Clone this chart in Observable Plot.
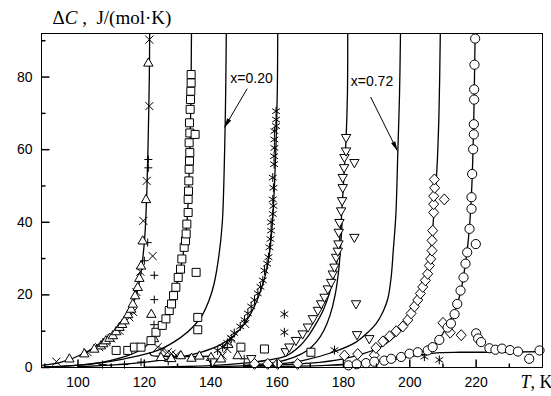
<!DOCTYPE html>
<html>
<head>
<meta charset="utf-8">
<script src="https://cdn.jsdelivr.net/npm/d3@7"></script>
<script src="https://cdn.jsdelivr.net/npm/@observablehq/plot@0.6"></script>
<style>
  html, body { margin: 0; padding: 0; background: #fff; }
  #chart { width: 551px; height: 396px; }
</style>
</head>
<body>
<div id="chart"></div>
<script>
// Excess heat capacity ΔC (J/(mol·K)) versus temperature T (K).
// Each pair is [T, ΔC].

// Fitted curves, one per composition (low-T branch up to the divergence).
const curveA = [[89,0.6],[95,1.5],[102,4.0],[108,7.6],[111,10],[113,12.5],[115.5,16],[117.4,19.5],[118.6,24],[119.4,29],[120.2,37],[120.8,50],[121.2,65],[121.5,80],[121.6,92]];
const curveATail = [[121.6,4.0],[122.2,3.3],[126,3.1],[132,3.0],[140,3.1]];
const curveB = [[90,0.2],[104,1.0],[115,3.3],[120,5.5],[123.5,9.2],[126.5,13.4],[128.2,17.5],[129.5,22.1],[130.9,27.1],[132.0,33.1],[132.8,39.5],[133.3,48],[133.7,60],[134.0,72],[134.2,92]];
const curveC = [[95,0.3],[105,1.1],[114,2.4],[124,4.7],[131,8.3],[135,11.5],[137.5,14.5],[139.5,18.5],[141,23],[142.5,31],[143.5,40],[144.2,60],[144.5,75],[144.7,92]];
const curveD = [[100,0.2],[112,0.8],[124,1.9],[137,4.2],[143,6.3],[147,8.8],[150.5,12.5],[153,16.5],[155,21],[156.5,25.5],[157.8,32],[158.6,40],[159.3,52],[159.8,65],[160.1,78],[160.2,92]];
const curveE = [[120,0.1],[140,0.5],[150,1.2],[157,2.0],[162.7,3.2],[166.7,5.8],[169.5,8.8],[171.7,12],[174,16],[175.8,20.5],[177.4,26],[178.5,32],[179.3,40],[180.1,52],[180.8,63],[181.2,75],[181.3,92]];
const curveE2 = [[150,0.6],[160,1.5],[165,2.8],[169.1,4.7],[172,7.2],[174.1,10.2],[176,14.5],[177.5,20],[178.6,27],[179.2,34],[179.6,40]];
const curveF = [[140,0.2],[160,0.9],[167.7,1.9],[176.8,4.2],[183.8,7.0],[187.5,9.8],[189.8,12],[192,15.5],[193.4,19],[194.4,25],[195.0,32],[195.8,42],[196.4,59.6],[196.9,75],[197.2,92]];
const curveG = [[150,0.3],[170,1.2],[180,2.4],[186,3.8],[191.5,5.8],[195,8.2],[198.5,11.5],[201,15.5],[203.3,20],[204.9,25],[206.2,32],[206.9,38],[207.5,46],[208.2,55],[208.8,70],[209.2,92]];
const curveGTail = [[195,2.2],[200,3.0],[205,3.7],[209,4.1],[215,4.2],[225,4.2],[240,4.4]];
const curveH = [[150,0.1],[175,0.6],[185,1.1],[192,1.9],[198,3.0],[203,4.2],[206.5,5.7],[209,8],[211,11],[213,14.5],[214.5,18],[215.7,22.5],[216.6,27.5],[217.4,33],[218.1,40],[218.7,50],[219.2,65],[219.5,80],[219.7,92]];

// Measured points, grouped by marker.
const trianglesUp = [[97.4,2.4],[101.9,3.8],[104.9,5.1],[106.9,6.0],[107.6,6.6],[108.4,7.4],[109.5,8.1],[110.5,8.8],[111.5,9.9],[112.5,11.1],[113.3,11.9],[114.0,12.9],[115.1,14.6],[116.0,16.1],[116.5,17.5],[117.2,19.8],[118.0,22.1],[118.5,24.6],[119.0,28.0],[119.5,34.9],[120.5,46.3],[121.2,83.9],[122.1,14.7],[122.9,8.0],[125.0,2.8],[128.1,2.5],[131.0,3.3],[134.2,2.6],[136.6,3.2],[140.1,2.8],[143.1,2.4],[145.3,6.4],[148.1,3.3]];
const crosses = [[93.5,1.6],[102.9,4.2],[106.4,5.6],[108.6,7.0],[110.0,8.0],[112.5,10.1],[115.5,13.8],[116.6,15.3],[117.6,20.8],[118.8,26.4],[119.7,40.4],[120.7,51.4],[121.5,72.0],[121.5,90.3],[122.5,30.7],[124.0,5.6],[125.5,4.8],[127.0,4.2],[128.2,3.8],[129.6,3.4],[143.6,3.3],[145.0,5.1],[146.2,7.9],[150.4,12.0]];
const pluses = [[107.4,0.8],[114.0,0.8],[119.0,1.5],[120.0,29.4],[121.0,34.4],[121.2,55.0],[121.2,57.3],[123.0,25.4],[123.0,18.7],[122.9,11.8],[127.2,1.7],[150.1,2.4]];
const squares = [[111.5,4.7],[115.0,4.7],[117.0,5.6],[119.0,5.6],[122.0,7.4],[123.5,9.7],[125.4,11.6],[126.5,13.4],[127.5,15.7],[128.2,17.5],[128.8,19.8],[129.5,22.1],[130.2,24.8],[130.9,27.1],[131.3,29.9],[132.0,33.1],[132.4,34.9],[132.6,36.8],[132.8,39.5],[133.2,42.7],[133.2,46.3],[133.3,48.6],[133.4,51.4],[133.5,54.6],[133.6,56.9],[133.7,59.2],[133.5,61.9],[133.7,64.6],[133.6,67.4],[133.8,71.1],[133.9,73.8],[134.0,76.1],[134.1,78.4],[134.1,80.7],[135.3,64.2],[135.6,26.2],[136.1,13.8],[136.1,10.4],[149.1,5.6],[156.2,5.1],[170.2,4.2]];
const asterisks = [[142.1,4.7],[143.6,5.6],[145.0,6.8],[146.2,8.0],[147.1,9.5],[148.9,11.3],[150.2,13.1],[151.2,14.9],[152.2,16.8],[153.2,18.6],[154.2,20.4],[155.0,22.2],[155.7,24.0],[156.2,26.7],[157.0,28.6],[157.4,30.4],[157.7,33.1],[158.0,35.4],[158.2,37.7],[158.2,40.0],[158.7,42.3],[158.9,44.5],[158.7,46.3],[158.9,49.5],[158.7,52.3],[159.1,56.0],[159.1,58.2],[159.2,60.5],[159.2,62.8],[159.2,65.1],[159.7,66.5],[159.7,68.3],[159.7,70.6],[162.2,14.7],[162.2,9.7],[177.3,4.8],[204.4,3.0],[208.9,2.1]];
const trianglesDown = [[140.6,1.5],[152.2,2.4],[162.6,4.3],[163.7,5.6],[165.7,7.4],[167.7,9.2],[169.3,11.1],[170.8,13.4],[172.3,15.7],[173.3,17.5],[174.3,19.3],[175.3,21.6],[176.3,23.4],[176.8,25.7],[177.3,27.6],[177.8,30.3],[178.3,32.0],[178.5,34.0],[178.6,37.2],[178.8,39.9],[179.3,43.1],[179.6,45.9],[179.8,49.5],[179.8,52.3],[180.2,55.0],[180.3,57.8],[180.8,59.6],[180.8,63.3],[183.3,56.4],[183.3,35.8],[183.8,17.5],[184.1,9.0],[187.8,7.9]];
const diamonds = [[153.2,1.0],[157.2,1.0],[160.2,1.0],[166.2,1.0],[180.3,3.3],[184.3,3.7],[189.3,3.4],[189.8,5.4],[191.9,7.2],[193.9,8.6],[195.9,10.0],[197.9,11.3],[199.4,13.1],[200.4,14.9],[201.4,16.8],[202.4,18.6],[203.2,20.4],[203.9,22.2],[204.7,24.0],[205.4,25.8],[205.9,28.1],[206.3,29.9],[206.7,32.2],[206.7,35.0],[206.9,37.7],[207.2,42.7],[207.2,45.0],[207.2,47.2],[207.5,49.5],[207.4,51.8],[210.4,46.3],[210.0,12.3],[212.2,9.6],[215.5,8.9]];
const circles = [[181.5,0.6],[184.0,0.9],[186.8,1.2],[189.3,1.6],[192.3,1.9],[194.4,2.4],[197.4,2.9],[199.9,3.8],[202.4,4.2],[205.4,4.7],[206.9,5.6],[208.9,7.6],[211.4,11.0],[212.4,12.1],[213.5,14.7],[214.3,17.5],[215.3,21.2],[216.2,24.8],[216.8,28.6],[217.3,31.7],[218.0,38.2],[218.6,43.7],[218.6,46.9],[218.8,53.3],[219.1,60.1],[219.3,64.2],[219.3,67.0],[219.4,73.8],[219.4,76.6],[219.5,83.4],[219.7,90.6],[219.9,34.0],[220.0,9.4],[220.6,8.0],[221.5,7.0],[224.0,5.3],[225.8,4.9],[227.8,5.2],[230.2,4.8],[232.6,4.4],[236.0,2.4],[239.1,4.7]];

// Composition labels with their pointer arrows: [text, T, ΔC] and [T1, ΔC1, T2, ΔC2].
const labelTexts = [["x=0.20", 152.3, 79.6], ["x=0.72", 188.6, 78.8]];
const pointers = [[151.0, 76.8, 144.2, 66.2], [188.2, 74.5, 196.2, 59.8]];

// Axis ticks.
const xTickValues = [100, 120, 140, 160, 180, 200, 220];
const xMinorTicks = [90, 110, 130, 150, 170, 190, 210, 230];
const yTickValues = [0, 20, 40, 60, 80];
const yMinorTicks = [10, 30, 50, 70, 90];

const xDomain = [89, 240];
const yDomain = [0, 92];

const T = d => d[0];
const C = d => d[1];

// Marker shapes, drawn at fixed pixel size.
const triUp = {draw(c) { c.moveTo(0, -5); c.lineTo(4.7, 3.2); c.lineTo(-4.7, 3.2); c.closePath(); }};
const triDown = {draw(c) { c.moveTo(0, 5); c.lineTo(4.7, -3.2); c.lineTo(-4.7, -3.2); c.closePath(); }};
const sq = {draw(c) { c.moveTo(-4, -4); c.lineTo(4, -4); c.lineTo(4, 4); c.lineTo(-4, 4); c.closePath(); }};
const dia = {draw(c) { c.moveTo(0, -5.5); c.lineTo(5, 0); c.lineTo(0, 5.5); c.lineTo(-5, 0); c.closePath(); }};
const circ = {draw(c) { c.moveTo(4.6, 0); c.arc(0, 0, 4.6, 0, 2 * Math.PI); }};
const times = {draw(c) { c.moveTo(-4, -4); c.lineTo(4, 4); c.moveTo(4, -4); c.lineTo(-4, 4); }};
const plus = {draw(c) { c.moveTo(-4, 0); c.lineTo(4, 0); c.moveTo(0, -4); c.lineTo(0, 4); }};
const aster = {draw(c) {
  c.moveTo(0, -4.5); c.lineTo(0, 4.5);
  c.moveTo(-3.9, -2.6); c.lineTo(3.9, 2.6);
  c.moveTo(3.9, -2.6); c.lineTo(-3.9, 2.6);
}};
const tickUp = len => ({draw(c) { c.moveTo(0, 0); c.lineTo(0, -len); }});
const tickRight = len => ({draw(c) { c.moveTo(0, 0); c.lineTo(len, 0); }});

const lineOpts = {x: T, y: C, stroke: "black", strokeWidth: 1.3, curve: "catmull-rom", clip: true};
const openDot = (data, symbol) => Plot.dot(data, {x: T, y: C, symbol, r: 4, fill: "white", stroke: "black", strokeWidth: 1});
const lineDot = (data, symbol) => Plot.dot(data, {x: T, y: C, symbol, r: 4, fill: "none", stroke: "black", strokeWidth: 1});

const chart = Plot.plot({
  width: 551,
  height: 396,
  marginLeft: 41,
  marginRight: 9,
  marginTop: 33,
  marginBottom: 29,
  style: {background: "white", fontFamily: "'Liberation Sans', Arial, sans-serif", fontSize: "14px", color: "black"},
  x: {domain: xDomain},
  y: {domain: yDomain},
  marks: [
    Plot.line(curveA, lineOpts),
    Plot.line(curveATail, lineOpts),
    Plot.line(curveB, lineOpts),
    Plot.line(curveC, lineOpts),
    Plot.line(curveD, lineOpts),
    Plot.line(curveE, lineOpts),
    Plot.line(curveE2, lineOpts),
    Plot.line(curveF, lineOpts),
    Plot.line(curveG, lineOpts),
    Plot.line(curveGTail, lineOpts),
    Plot.line(curveH, lineOpts),

    lineDot(pluses, plus),
    lineDot(crosses, times),
    openDot(trianglesUp, triUp),
    openDot(squares, sq),
    lineDot(asterisks, aster),
    openDot(trianglesDown, triDown),
    openDot(diamonds, dia),
    openDot(circles, circ),

    // composition labels and pointers
    Plot.text(labelTexts, {x: d => d[1], y: d => d[2], text: d => d[0], fontSize: 14, fill: "black"}),
    Plot.link(pointers, {x1: d => d[0], y1: d => d[1], x2: d => d[2], y2: d => d[3], stroke: "black", strokeWidth: 1, markerEnd: "arrow"}),

    // frame and inward ticks
    Plot.frame({stroke: "black", strokeWidth: 1}),
    Plot.dot(xTickValues, {x: d => d, y: () => yDomain[0], symbol: tickUp(8), r: 4, stroke: "black", fill: "none"}),
    Plot.dot(xMinorTicks, {x: d => d, y: () => yDomain[0], symbol: tickUp(4), r: 4, stroke: "black", fill: "none"}),
    Plot.dot(yTickValues, {x: () => xDomain[0], y: d => d, symbol: tickRight(8), r: 4, stroke: "black", fill: "none"}),
    Plot.dot(yMinorTicks, {x: () => xDomain[0], y: d => d, symbol: tickRight(4), r: 4, stroke: "black", fill: "none"}),

    Plot.axisX({ticks: xTickValues, tickSize: 0, tickPadding: 10, label: null}),
    Plot.axisY({ticks: yTickValues, tickSize: 0, tickPadding: 9, label: null}),

    // axis titles, anchored to the plot corners
    Plot.text(["ΔC ,  J/(mol·K)"], {x: () => xDomain[0], y: () => yDomain[1], dx: 11, dy: -16, textAnchor: "start", fontSize: 19, fill: "black"}),
    Plot.text(["T, K"], {x: () => xDomain[1], y: () => yDomain[0], dx: 10, dy: 15, textAnchor: "end", fontSize: 18, fill: "black"})
  ]
});

// Serif titles with italic variable names.
function styleRuns(svg, full, runs) {
  const ns = "http://www.w3.org/2000/svg";
  for (const t of svg.querySelectorAll("text")) {
    if (t.textContent !== full) continue;
    t.textContent = "";
    t.setAttribute("font-family", "'Liberation Serif', 'Times New Roman', serif");
    t.setAttribute("text-anchor", full === "T, K" ? "end" : "start");
    t.style.whiteSpace = "pre";
    for (const [s, italic] of runs) {
      const ts = document.createElementNS(ns, "tspan");
      ts.textContent = s;
      if (italic) ts.setAttribute("font-style", "italic");
      t.appendChild(ts);
    }
  }
}
styleRuns(chart, "ΔC ,  J/(mol·K)", [["Δ", false], ["C", true], [" ,  J/(mol·K)", false]]);
styleRuns(chart, "T, K", [["T", true], [", K", false]]);

// Solid arrowheads on the pointers.
for (const m of chart.querySelectorAll("marker")) {
  m.setAttribute("viewBox", "-10 -5 12 10");
  m.setAttribute("markerWidth", "12");
  m.setAttribute("markerHeight", "10");
  m.setAttribute("fill", "black");
  m.setAttribute("stroke", "none");
  const p = m.querySelector("path");
  if (p) p.setAttribute("d", "M-9,-2.3L1,0L-9,2.3Z");
}

document.getElementById("chart").appendChild(chart);
</script>
</body>
</html>
